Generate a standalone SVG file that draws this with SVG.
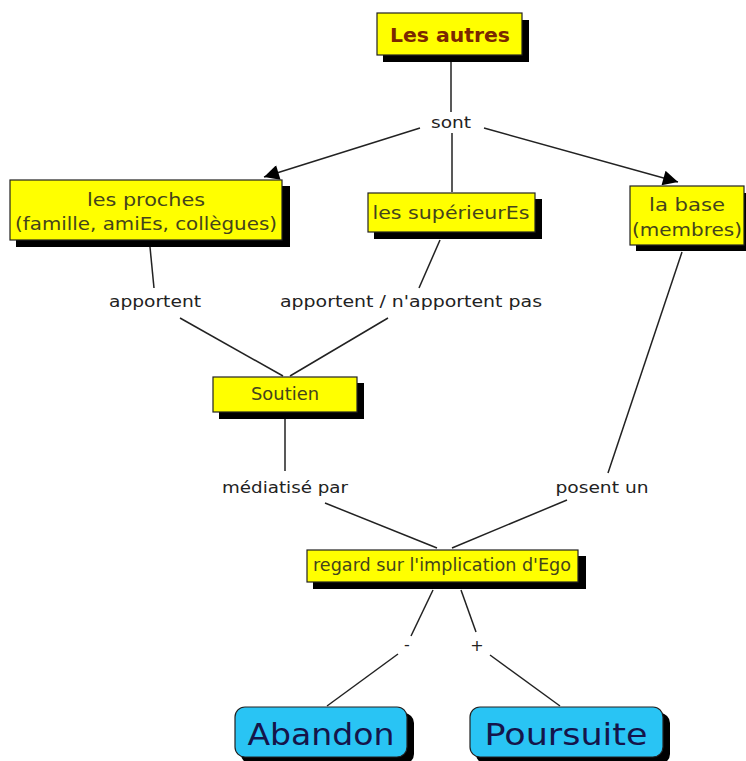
<svg xmlns="http://www.w3.org/2000/svg" width="746" height="761" viewBox="0 0 746 761">
<defs>
<style>
.box{fill:#ffff00;stroke:#222;stroke-width:1.2}
.sh{fill:#000}
.rbox{fill:#29c4f4;stroke:#222;stroke-width:1.2}
.nt{font-family:"DejaVu Sans",sans-serif;font-size:17px;fill:#44441c;text-anchor:middle}
.lbl{font-family:"DejaVu Sans",sans-serif;font-size:16px;fill:#222;text-anchor:middle}
.ln{stroke:#222;stroke-width:1.5;fill:none}
.big{font-family:"DejaVu Sans",sans-serif;font-size:30px;fill:#15154a;text-anchor:middle}
</style>
<marker id="ah2" viewBox="0 0 10 10" refX="10" refY="5" markerWidth="20" markerHeight="15" markerUnits="userSpaceOnUse" orient="auto">
<path d="M0,0 L10,5 L0,10 z" fill="#000"/>
</marker>
</defs>
<rect width="746" height="761" fill="#fff"/>
<g id="connectors">
<line class="ln" x1="451" y1="57" x2="451" y2="112"/>
<line class="ln" x1="420" y1="128" x2="264" y2="177" marker-end="url(#ah2)"/>
<line class="ln" x1="484" y1="128" x2="678" y2="182" marker-end="url(#ah2)"/>
<line class="ln" x1="452" y1="133" x2="452" y2="192"/>
<line class="ln" x1="150" y1="247" x2="154" y2="288"/>
<line class="ln" x1="180" y1="318" x2="283" y2="376"/>
<line class="ln" x1="440" y1="240" x2="419" y2="288"/>
<line class="ln" x1="388" y1="318" x2="290" y2="376"/>
<line class="ln" x1="285" y1="418" x2="285" y2="471"/>
<line class="ln" x1="325" y1="503" x2="437" y2="548"/>
<line class="ln" x1="682" y1="252" x2="608" y2="473"/>
<line class="ln" x1="567" y1="500" x2="452" y2="548"/>
<line class="ln" x1="433" y1="590" x2="411" y2="636"/>
<line class="ln" x1="398" y1="654" x2="327" y2="706"/>
<line class="ln" x1="461" y1="590" x2="476" y2="632"/>
<line class="ln" x1="490" y1="655" x2="560" y2="706"/>
</g>
<g id="lbl-sont"><text class="lbl" x="451" y="128" textLength="40" lengthAdjust="spacingAndGlyphs">sont</text></g>
<g id="lbl-apportent"><text class="lbl" x="155" y="307" textLength="92" lengthAdjust="spacingAndGlyphs">apportent</text></g>
<g id="lbl-apportent2"><text class="lbl" x="411" y="307" textLength="262" lengthAdjust="spacingAndGlyphs">apportent / n'apportent pas</text></g>
<g id="lbl-mediatise"><text class="lbl" x="285" y="493" textLength="126" lengthAdjust="spacingAndGlyphs">médiatisé par</text></g>
<g id="lbl-posent"><text class="lbl" x="602" y="493" textLength="93" lengthAdjust="spacingAndGlyphs">posent un</text></g>
<g id="lbl-moins"><text class="lbl" x="407" y="650" font-size="18">-</text></g>
<g id="lbl-plus"><text class="lbl" x="477" y="651">+</text></g>
<g id="n-autres">
<rect class="sh" x="383" y="20" width="146" height="42"/>
<rect class="box" x="377" y="13" width="145" height="42"/>
<text x="450" y="42" font-family="DejaVu Sans,sans-serif" font-size="19" font-weight="bold" fill="#7a2800" text-anchor="middle" textLength="120" lengthAdjust="spacingAndGlyphs">Les autres</text>
</g>
<g id="n-proches">
<rect class="sh" x="16" y="186" width="274" height="61"/>
<rect class="box" x="10" y="180" width="272" height="60"/>
<text class="nt" x="146" y="206" textLength="118" lengthAdjust="spacingAndGlyphs">les proches</text>
<text class="nt" x="146" y="230" textLength="262" lengthAdjust="spacingAndGlyphs">(famille, amiEs, collègues)</text>
</g>
<g id="n-superieurs">
<rect class="sh" x="374" y="199" width="168" height="40"/>
<rect class="box" x="368" y="193" width="167" height="39"/>
<text class="nt" x="451" y="219" textLength="157" lengthAdjust="spacingAndGlyphs">les supérieurEs</text>
</g>
<g id="n-base">
<rect class="sh" x="636" y="193" width="110" height="58"/>
<rect class="box" x="630" y="186" width="114" height="59"/>
<text class="nt" x="687" y="211" textLength="76" lengthAdjust="spacingAndGlyphs">la base</text>
<text class="nt" x="687" y="236" textLength="110" lengthAdjust="spacingAndGlyphs">(membres)</text>
</g>
<g id="n-soutien">
<rect class="sh" x="219" y="383" width="145" height="36"/>
<rect class="box" x="213" y="377" width="144" height="35"/>
<text class="nt" x="285" y="400" font-size="15" textLength="68" lengthAdjust="spacingAndGlyphs">Soutien</text>
</g>
<g id="n-regard">
<rect class="sh" x="313" y="556" width="273" height="33"/>
<rect class="box" x="307" y="550" width="271" height="32"/>
<text class="nt" x="442" y="571" font-size="15" textLength="258" lengthAdjust="spacingAndGlyphs">regard sur l'implication d'Ego</text>
</g>
<g id="n-abandon">
<rect class="sh" x="241" y="713" width="173" height="51" rx="10"/>
<rect class="rbox" x="235" y="707" width="172" height="50" rx="10"/>
<text class="big" x="321" y="745" textLength="147" lengthAdjust="spacingAndGlyphs">Abandon</text>
</g>
<g id="n-poursuite">
<rect class="sh" x="476" y="713" width="194" height="51" rx="10"/>
<rect class="rbox" x="470" y="707" width="193" height="50" rx="10"/>
<text class="big" x="566" y="745" textLength="163" lengthAdjust="spacingAndGlyphs">Poursuite</text>
</g>
</svg>
